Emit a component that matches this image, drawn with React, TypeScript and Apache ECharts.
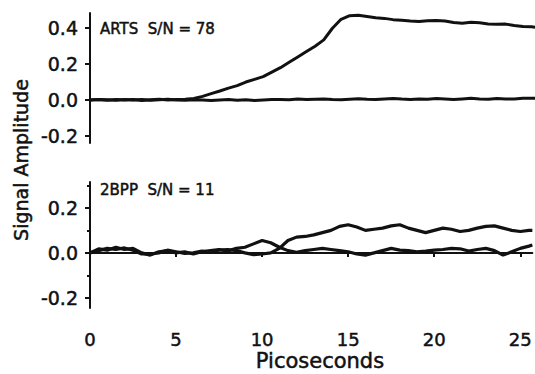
import React, { useEffect, useRef } from "react";
import * as echarts from "echarts";

const times = [0, 0.5, 1, 1.5, 2, 2.5, 3, 3.5, 4, 4.5, 5, 5.5, 6, 6.5, 7, 7.5, 8, 8.5, 9, 9.5, 10, 10.5, 11, 11.5, 12, 12.5, 13, 13.5, 14, 14.5, 15, 15.5, 16, 16.5, 17, 17.5, 18, 18.5, 19, 19.5, 20, 20.5, 21, 21.5, 22, 22.5, 23, 23.5, 24, 24.5, 25, 25.5, 25.7];

const artsSignal = [0.0, 0.002, -0.002, 0.003, 0.0, 0.002, -0.003, 0.001, 0.004, 0.0, 0.002, 0.004,
  0.008, 0.02, 0.035, 0.05, 0.066, 0.08, 0.1, 0.115, 0.13, 0.155,
  0.18, 0.21, 0.24, 0.27, 0.3, 0.335, 0.4, 0.45, 0.47, 0.472,
  0.465, 0.458, 0.455, 0.448, 0.445, 0.44, 0.437, 0.442, 0.443, 0.44,
  0.432, 0.428, 0.433, 0.43, 0.424, 0.422, 0.423, 0.415, 0.41, 0.408, 0.406];

const artsReference = [0.0, 0.003, 0.001, -0.002, 0.002, 0.0, 0.003, -0.002, 0.001, 0.004, 0.0, -0.002,
  0.001, 0.0, -0.003, 0.0, 0.002, -0.002, 0.001, -0.003, 0.0, 0.002,
  0.003, 0.001, 0.005, 0.002, 0.004, 0.006, 0.003, 0.001, 0.004, 0.007,
  0.004, 0.002, 0.006, 0.008, 0.005, 0.003, 0.006, 0.004, 0.008, 0.006,
  0.003, 0.006, 0.009, 0.005, 0.004, 0.008, 0.006, 0.005, 0.009, 0.01, 0.01];

const bppEarly = [0.0, 0.018, 0.012, 0.025, 0.015, 0.02, 0.0, -0.01, 0.005, 0.01, 0.0, 0.005,
  -0.005, 0.005, 0.01, 0.015, 0.008, 0.02, 0.025, 0.04, 0.055, 0.045,
  0.025, 0.01, 0.003, 0.01, 0.015, 0.02, 0.015, 0.01, 0.005, -0.005,
  -0.01, 0.0, 0.01, 0.02, 0.012, 0.01, 0.005, 0.008, 0.012, 0.015,
  0.02, 0.018, 0.008, 0.015, 0.02, 0.01, -0.01, 0.005, 0.02, 0.03, 0.035];

const bppLate = [0.0, 0.01, 0.02, 0.015, 0.022, 0.012, -0.005, -0.005, 0.0, 0.012, 0.005, -0.002,
  0.0, 0.008, 0.005, 0.012, 0.015, 0.01, 0.0, -0.008, -0.005, 0.0,
  0.02, 0.055, 0.07, 0.073, 0.08, 0.09, 0.1, 0.118, 0.125, 0.115,
  0.1, 0.105, 0.11, 0.12, 0.125, 0.11, 0.1, 0.09, 0.1, 0.11,
  0.105, 0.095, 0.1, 0.11, 0.118, 0.12, 0.11, 0.1, 0.095, 0.1, 0.1];

const topTicks = [-0.2, 0, 0.2, 0.4];
const bottomTicks = [-0.2, 0, 0.2];
const bottomMinorTicks = [-0.1, 0.1, 0.3];
const xTickInterval = 5;

const labelTop = "ARTS  S/N = 78";
const labelBottom = "2BPP  S/N = 11";
const yName = "Signal Amplitude";
const xName = "Picoseconds";

const FONT = "DejaVu Sans";
const INK = "#111";

function pairs(vals: number[]) {
  return times.map((t, i) => [t, vals[i]]);
}

export default function App() {
  const ref = useRef<HTMLDivElement>(null);
  useEffect(() => {
    if (!ref.current) return;
    const chart = echarts.init(ref.current, undefined, { renderer: "svg" });
    const axisLine = { show: true, lineStyle: { color: INK, width: 2 } };
    const heavy = { textBorderColor: INK, textBorderWidth: 0.5 };
    const yLabel = {
      color: INK,
      fontFamily: FONT,
      fontSize: 19,
      margin: 12,
      ...heavy,
      formatter: (v: number) => v.toFixed(1),
    };
    const lineSeries = (vals: number[], idx: number, w: number) => ({
      type: "line",
      xAxisIndex: idx,
      yAxisIndex: idx === 0 ? 0 : 1,
      data: pairs(vals),
      showSymbol: false,
      symbol: "none",
      smooth: false,
      lineStyle: { color: INK, width: w },
      silent: true,
    });
    const textStyle = (text: string, size: number, align: string) => ({
      text,
      fill: INK,
      font: `${size}px "${FONT}"`,
      align,
      verticalAlign: "middle",
      stroke: INK,
      lineWidth: 0.5,
    });
    chart.setOption({
      animation: false,
      backgroundColor: "#fff",
      grid: [
        { left: 90, right: 0, top: 13, height: 130 },
        { left: 90, right: 0, top: 182, height: 126 },
      ],
      xAxis: [
        { type: "value", gridIndex: 0, min: 0, max: 25.7, show: false },
        {
          type: "value",
          gridIndex: 1,
          min: 0,
          max: 25.7,
          interval: xTickInterval,
          offset: 5,
          axisLine,
          axisTick: { show: true, length: 4, lineStyle: { color: INK, width: 2 } },
          axisLabel: { color: INK, fontFamily: FONT, fontSize: 18, margin: 17, ...heavy },
          splitLine: { show: false },
        },
      ],
      yAxis: [
        {
          type: "value",
          gridIndex: 0,
          min: -0.24,
          max: 0.485,
          axisLine,
          axisTick: { show: true, length: 5, customValues: topTicks, lineStyle: { color: INK, width: 2 } },
          axisLabel: { ...yLabel, customValues: topTicks },
          splitLine: { show: false },
        },
        {
          type: "value",
          gridIndex: 1,
          min: -0.245,
          max: 0.315,
          axisLine,
          axisTick: { show: true, length: 5, customValues: bottomTicks, lineStyle: { color: INK, width: 2 } },
          axisLabel: { ...yLabel, customValues: bottomTicks },
          splitLine: { show: false },
        },
        {
          type: "value",
          gridIndex: 1,
          min: -0.245,
          max: 0.315,
          position: "left",
          axisLine: { show: false },
          axisTick: { show: true, length: 3, customValues: bottomMinorTicks, lineStyle: { color: INK, width: 2 } },
          axisLabel: { show: false },
          splitLine: { show: false },
        },
      ],
      series: [
        lineSeries(artsReference, 0, 3),
        lineSeries(artsSignal, 0, 3),
        lineSeries(bppEarly, 1, 3.2),
        lineSeries(bppLate, 1, 3.2),
      ],
      graphic: [
        { type: "text", x: 100, y: 29, style: textStyle(labelTop, 15, "left") },
        { type: "text", x: 100, y: 190, style: textStyle(labelBottom, 15, "left") },
        { type: "text", x: 21, y: 160, rotation: Math.PI / 2, style: textStyle(yName, 19, "center") },
        { type: "text", x: 320, y: 361, style: textStyle(xName, 21, "center") },
      ],
    });
    return () => chart.dispose();
  }, []);
  return <div ref={ref} style={{ width: 535, height: 374, position: "absolute", left: 0, top: 0 }} />;
}
